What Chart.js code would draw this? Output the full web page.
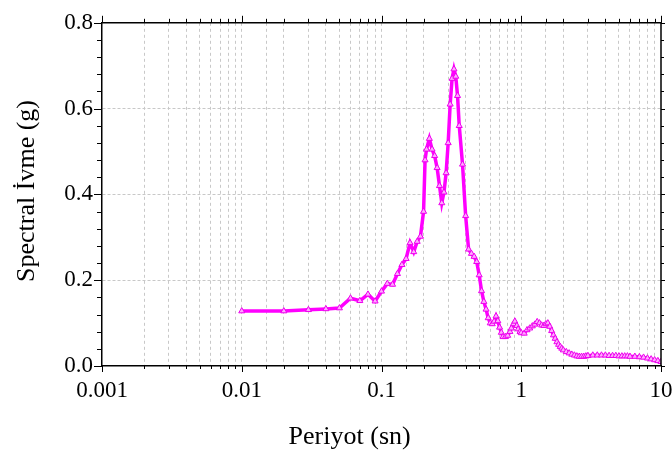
<!DOCTYPE html>
<html>
<head>
<meta charset="utf-8">
<script src="https://cdn.jsdelivr.net/npm/chart.js@4.4.1/dist/chart.umd.min.js"></script>
<style>
  html, body { margin: 0; padding: 0; background: #fff; }
  #wrap { width: 672px; height: 450px; }
</style>
</head>
<body>
<div id="wrap"><canvas id="c" width="672" height="450"></canvas></div>
<script>
// Period (s) and spectral acceleration (g)
const periods = [
  0.01, 0.02, 0.03, 0.04, 0.05, 0.06, 0.07, 0.08, 0.09, 0.10,
  0.11, 0.12, 0.13, 0.14, 0.15, 0.16, 0.17, 0.18, 0.19, 0.20,
  0.205, 0.21, 0.22, 0.23, 0.24, 0.25, 0.26, 0.27, 0.28, 0.29,
  0.30, 0.31, 0.32, 0.33, 0.34, 0.35, 0.36, 0.38, 0.40, 0.42,
  0.44, 0.46, 0.48, 0.50, 0.52, 0.54, 0.56, 0.58, 0.60, 0.62,
  0.64, 0.66, 0.68, 0.70, 0.72, 0.74, 0.77, 0.80, 0.83, 0.85,
  0.88, 0.90, 0.93, 0.95, 0.98, 1.00, 1.05, 1.10, 1.15, 1.20,
  1.25, 1.30, 1.35, 1.40, 1.45, 1.50, 1.55, 1.60, 1.65, 1.70,
  1.75, 1.80, 1.85, 1.90, 1.95, 2.00, 2.10, 2.20, 2.30, 2.40,
  2.50, 2.60, 2.70, 2.80, 2.90, 3.00, 3.25, 3.50, 3.75, 4.00,
  4.25, 4.50, 4.75, 5.00, 5.25, 5.50, 5.75, 6.00, 6.50, 7.00,
  7.50, 8.00, 8.50, 9.00, 9.50, 10.0
];
const accel = [
  0.128, 0.128, 0.131, 0.133, 0.135, 0.158, 0.152, 0.167, 0.151, 0.174,
  0.192, 0.190, 0.215, 0.236, 0.250, 0.287, 0.266, 0.290, 0.302, 0.360,
  0.480, 0.505, 0.530, 0.505, 0.490, 0.462, 0.420, 0.380, 0.405, 0.450,
  0.520, 0.610, 0.670, 0.692, 0.675, 0.630, 0.560, 0.470, 0.350, 0.272,
  0.262, 0.255, 0.243, 0.212, 0.175, 0.150, 0.132, 0.112, 0.100, 0.098,
  0.104, 0.116, 0.105, 0.090, 0.078, 0.068, 0.068, 0.071, 0.080, 0.088,
  0.098, 0.104, 0.094, 0.086, 0.080, 0.077, 0.076, 0.084, 0.088, 0.093,
  0.097, 0.103, 0.100, 0.095, 0.094, 0.098, 0.100, 0.092, 0.082, 0.072,
  0.064, 0.056, 0.050, 0.045, 0.041, 0.037, 0.033, 0.030, 0.027, 0.025,
  0.023, 0.022, 0.022, 0.022, 0.023, 0.024, 0.025, 0.025, 0.025, 0.025,
  0.024, 0.024, 0.024, 0.023, 0.023, 0.023, 0.023, 0.022, 0.022, 0.021,
  0.020, 0.018, 0.016, 0.014, 0.012, 0.010
];
const xTickLabels = ['0.001', '0.01', '0.1', '1', '10'];
const yTickLabels = ['0.0', '0.2', '0.4', '0.6', '0.8'];
const xTitle = 'Periyot (sn)';
const yTitle = 'Spectral İvme (g)';

const FONT = "'Liberation Serif', 'Times New Roman', serif";

function decadeIndex(v) {
  const l = Math.log10(v);
  const r = Math.round(l);
  return Math.abs(l - r) < 1e-6 ? r + 3 : -1;
}
function yMajorIndex(v) {
  const r = Math.round(v / 0.2);
  return Math.abs(v / 0.2 - r) < 1e-6 ? r : -1;
}

const framePlugin = {
  id: 'frame',
  afterDraw(chart) {
    const ctx = chart.ctx;
    const ca = chart.chartArea;
    const xs = chart.scales.x, ys = chart.scales.y;
    ctx.save();
    ctx.strokeStyle = '#000';
    ctx.lineWidth = 1;
    ctx.beginPath();
    ys.ticks.forEach(t => {
      const py = Math.round(ys.getPixelForValue(t.value)) + 0.5;
      const major = yMajorIndex(t.value) >= 0;
      ctx.moveTo(ca.left - (major ? 8 : 5), py); ctx.lineTo(ca.left, py);
      ctx.moveTo(ca.right, py); ctx.lineTo(ca.right + (major ? 4 : 3), py);
    });
    xs.ticks.forEach(t => {
      const px = Math.round(xs.getPixelForValue(t.value)) + 0.5;
      const major = decadeIndex(t.value) >= 0;
      ctx.moveTo(px, ca.bottom); ctx.lineTo(px, ca.bottom + (major ? 6 : 3));
      ctx.moveTo(px, ca.top); ctx.lineTo(px, ca.top - (major ? 7 : 4));
    });
    ctx.stroke();
    ctx.lineWidth = 1.5;
    ctx.beginPath();
    ctx.moveTo(ca.left, ca.top); ctx.lineTo(ca.right, ca.top); ctx.lineTo(ca.right, ca.bottom);
    ctx.stroke();
    // axis titles
    ctx.fillStyle = '#000';
    ctx.font = '26px ' + FONT;
    ctx.textAlign = 'center';
    ctx.textBaseline = 'middle';
    ctx.fillText(xTitle, ca.left + ca.width * 0.443, 437);
    ctx.translate(27, ca.top + ca.height * 0.49);
    ctx.rotate(-Math.PI / 2);
    ctx.fillText(yTitle, 0, 0);
    ctx.restore();
  }
};

const points = periods.map((p, i) => ({ x: p, y: accel[i] }));

new Chart(document.getElementById('c'), {
  type: 'line',
  data: {
    datasets: [{
      label: 'Spectral İvme',
      data: points,
      borderColor: '#ff00ff',
      borderWidth: 3.5,
      pointStyle: 'triangle',
      pointRadius: 3.5,
      pointBorderWidth: 1,
      pointBorderColor: '#ee00ee',
      pointBackgroundColor: '#ffa8ff',
      tension: 0,
      fill: false
    }]
  },
  options: {
    responsive: false,
    animation: false,
    devicePixelRatio: 1,
    layout: { padding: { left: 0, top: 17, right: 11, bottom: 0 } },
    plugins: { legend: { display: false }, tooltip: { enabled: false } },
    scales: {
      x: {
        type: 'logarithmic',
        min: 0.001,
        max: 10,
        afterFit(scale) { scale.height = 84; scale.paddingLeft = 0; scale.paddingRight = 0; },
        grid: {
          drawTicks: false,
          tickLength: 0,
          lineWidth: 1,
          color: ctx => (ctx.tick && (ctx.tick.value <= 0.001 || ctx.tick.value >= 10)) ? 'rgba(0,0,0,0)' : '#c8c8c8'
        },
        border: { display: true, color: '#000', width: 1.5, dash: [3, 3] },
        ticks: {
          autoSkip: false,
          maxRotation: 0,
          padding: 11,
          color: '#000',
          font: { family: FONT, size: 23 },
          callback: (v) => { const i = decadeIndex(v); return i >= 0 ? xTickLabels[i] : ''; }
        }
      },
      y: {
        min: 0,
        max: 0.8,
        afterFit(scale) { scale.width = 102; },
        grid: {
          drawTicks: false,
          tickLength: 0,
          lineWidth: 1,
          color: ctx => {
            if (!ctx.tick) return 'rgba(0,0,0,0)';
            const i = yMajorIndex(ctx.tick.value);
            return (i > 0 && i < 4) ? '#c8c8c8' : 'rgba(0,0,0,0)';
          }
        },
        border: { display: true, color: '#000', width: 1.5, dash: [3, 2] },
        ticks: {
          stepSize: 0.04,
          autoSkip: false,
          padding: 9,
          color: '#000',
          font: { family: FONT, size: 23 },
          callback: (v) => { const i = yMajorIndex(v); return i >= 0 ? yTickLabels[i] : ''; }
        }
      }
    }
  },
  plugins: [framePlugin]
});
</script>
</body>
</html>
